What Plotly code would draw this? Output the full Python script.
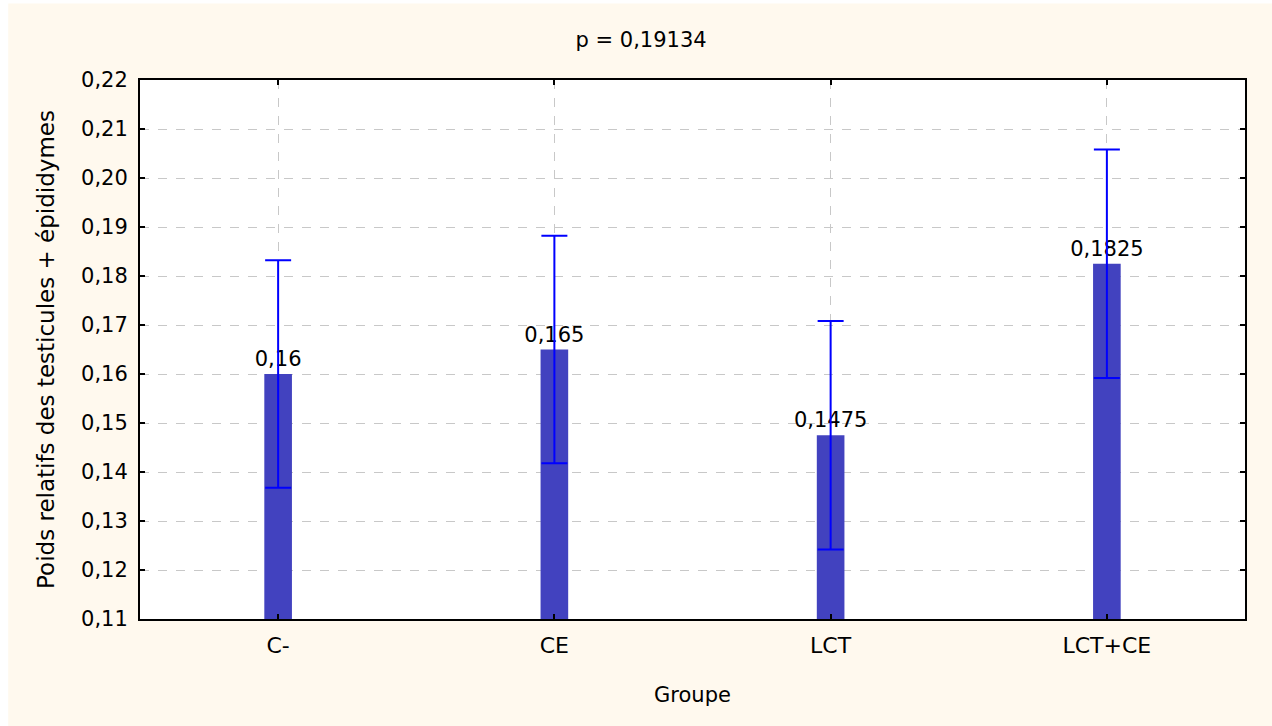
import plotly.graph_objects as go

groups = ["C-", "CE", "LCT", "LCT+CE"]
means = [0.16, 0.165, 0.1475, 0.1825]
errors = [0.0232, 0.0232, 0.0233, 0.0233]
y_ticks = [0.11, 0.12, 0.13, 0.14, 0.15, 0.16, 0.17, 0.18, 0.19, 0.20, 0.21, 0.22]
title_text = "p = 0,19134"
labels = [("%g" % v).replace(".", ",") for v in means]

FONT = "DejaVu Sans, Arial, sans-serif"

fig = go.Figure()
fig.add_trace(go.Bar(
    x=groups, y=means, width=0.1,
    marker=dict(color="#4242BF", line=dict(width=0)),
    error_y=dict(type="data", array=errors, visible=True, color="#0000FF",
                 thickness=2, width=13),
    text=labels, textposition="outside", constraintext="none",
    cliponaxis=False,
    textfont=dict(family=FONT, size=21, color="black"),
))

fig.update_layout(
    width=1272, height=726,
    margin=dict(l=140, r=27, t=80, b=107),
    paper_bgcolor="white", plot_bgcolor="white",
    separators=", ",
    showlegend=False,
    font=dict(family=FONT, size=21, color="black"),
    title=dict(text=title_text, x=0.504, xanchor="center", y=0.945, yanchor="middle",
               font=dict(family=FONT, size=21, color="black")),
    shapes=[
        dict(type="rect", xref="paper", yref="paper", x0=-0.1193, x1=1.03, y0=-0.2, y1=1.142,
             fillcolor="#FFF9EE", line=dict(width=0), layer="below"),
        dict(type="rect", xref="paper", yref="paper", x0=0, x1=1, y0=0, y1=1,
             fillcolor="white", line=dict(width=0), layer="below"),
    ],
)

fig.update_xaxes(
    range=[-0.5, 3.5],
    showline=True, linecolor="black", linewidth=2, mirror="allticks",
    ticks="inside", ticklen=5, tickwidth=2, tickcolor="black",
    showgrid=True, gridcolor="#C8C8C8", griddash="dash", gridwidth=1,
    tickfont=dict(family=FONT, size=22, color="black"),
    ticklabelstandoff=6,
    title=dict(text="Groupe", font=dict(family=FONT, size=21, color="black"), standoff=30),
)
fig.update_yaxes(
    range=[0.11, 0.22],
    tickvals=y_ticks, ticktext=[("%.2f" % v).replace(".", ",") for v in y_ticks],
    showline=True, linecolor="black", linewidth=2, mirror="allticks",
    ticks="inside", ticklen=5, tickwidth=2, tickcolor="black",
    showgrid=True, gridcolor="#C8C8C8", griddash="dash", gridwidth=1,
    zeroline=False,
    tickfont=dict(family=FONT, size=21, color="black"),
    ticklabelstandoff=6,
    title=dict(text="Poids relatifs des testicules + épididymes",
               font=dict(family=FONT, size=23, color="black"), standoff=20),
)

fig.write_html("out.html")
